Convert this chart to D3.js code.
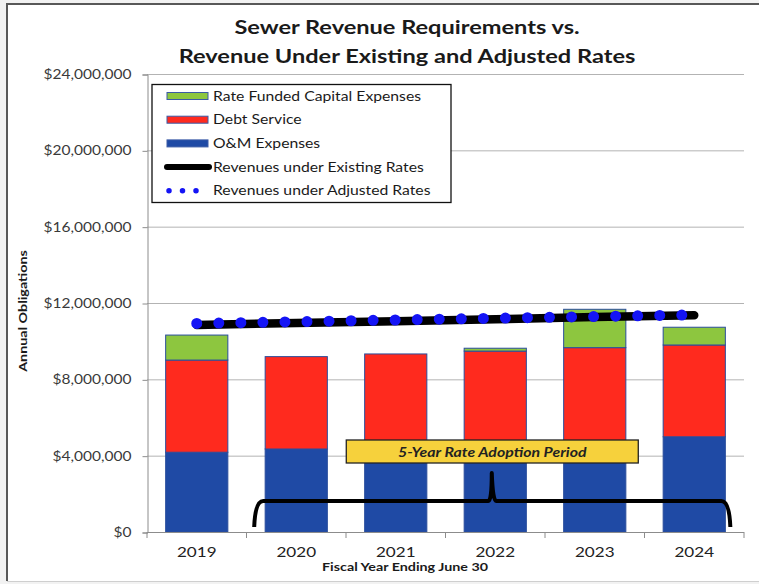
<!DOCTYPE html>
<html>
<head>
<meta charset="utf-8">
<script src="https://cdn.jsdelivr.net/npm/d3@7"></script>
<style>
  html, body { margin: 0; padding: 0; background: #f2f2f2; }
  svg { display: block; font-family: Lato, "Open Sans", sans-serif; }
</style>
</head>
<body>
<svg id="chart" width="759" height="584"></svg>
<script>
// Fiscal years and the three stacked cost components (dollars)
const years = ["2019", "2020", "2021", "2022", "2023", "2024"];
const omExpenses = [4180000, 4350000, 4450000, 4560000, 4660000, 4990000];
const debtService = [4830000, 4840000, 4880000, 4920000, 5000000, 4810000];
const capitalExpenses = [1310000, 0, 0, 150000, 2010000, 930000];

// Revenue projections (dollars)
const existingRevenue = [10850000, 10950000, 11050000, 11150000, 11260000, 11360000];
const adjustedRevenue = [10930000, 11020000, 11110000, 11200000, 11290000, 11380000];

// Value axis ticks
const yTicks = [0, 4000000, 8000000, 12000000, 16000000, 20000000, 24000000];

const seriesKeys = ["om", "debt", "capital"];
const seriesNames = {
  capital: "Rate Funded Capital Expenses",
  debt: "Debt Service",
  om: "O&M Expenses"
};
const colors = { om: "#1f4aa5", debt: "#ff2a1e", capital: "#8dc63f" };

const rows = years.map((yr, i) => ({
  year: yr,
  om: omExpenses[i],
  debt: debtService[i],
  capital: capitalExpenses[i]
}));

// Widen a text run horizontally by the given factor
function widen(sel, factor) {
  sel.each(function () {
    const len = this.getComputedTextLength();
    d3.select(this).attr("textLength", len * factor).attr("lengthAdjust", "spacingAndGlyphs");
  });
}

const svg = d3.select("#chart");
const W = 759, H = 584;
const plot = { left: 147, right: 744, top: 74, bottom: 532 };

// Frame
svg.append("rect").attr("x", 7).attr("y", 4).attr("width", W).attr("height", 577)
  .attr("fill", "#ffffff");
svg.append("line").attr("x1", 7).attr("x2", 7).attr("y1", 3).attr("y2", 581)
  .attr("stroke", "#585858").attr("stroke-width", 2);
svg.append("line").attr("x1", 6).attr("x2", W).attr("y1", 4).attr("y2", 4)
  .attr("stroke", "#585858").attr("stroke-width", 2);
svg.append("line").attr("x1", 7).attr("x2", W).attr("y1", 581.5).attr("y2", 581.5)
  .attr("stroke", "#cfcfcf").attr("stroke-width", 1);

const x = d3.scaleBand().domain(years)
  .range([plot.left, plot.right])
  .paddingInner(0.375).paddingOuter(0.1875);
const y = d3.scaleLinear().domain([0, 24000000]).range([plot.bottom, plot.top]);

// Gridlines
svg.append("g").selectAll("line").data(yTicks.filter(d => d > 0)).join("line")
  .attr("x1", plot.left).attr("x2", plot.right)
  .attr("y1", d => y(d) + 0.5).attr("y2", d => y(d) + 0.5)
  .attr("stroke", "#b3b3b3").attr("stroke-width", 1);

// Y axis
const yAxis = svg.append("g")
  .attr("transform", `translate(${plot.left + 0.5},0.5)`)
  .call(d3.axisLeft(y).tickValues(yTicks).tickFormat(d3.format("$,")).tickSize(5).tickPadding(11));
yAxis.select(".domain").attr("stroke", "#8c8c8c");
yAxis.selectAll(".tick line").attr("stroke", "#8c8c8c");
yAxis.selectAll(".tick text").attr("fill", "#3a3a3a")
  .style("font-size", "12.5px").style("font-family", "Lato, sans-serif")
  .call(widen, 1.24);

// Stacked bars
const stacked = d3.stack().keys(seriesKeys)(rows);
svg.append("g").selectAll("g").data(stacked).join("g")
  .attr("fill", d => colors[d.key])
  .selectAll("rect").data(d => d.filter(p => p[1] - p[0] > 0)).join("rect")
  .attr("x", d => x(d.data.year))
  .attr("width", x.bandwidth())
  .attr("y", d => y(d[1]))
  .attr("height", d => y(d[0]) - y(d[1]))
  .attr("stroke", "#2a4d9c")
  .attr("stroke-width", 1);

// X axis baseline and category boundary ticks
const step = x.step();
const xAxis = svg.append("g");
xAxis.append("line")
  .attr("x1", plot.left).attr("x2", plot.right)
  .attr("y1", plot.bottom + 0.5).attr("y2", plot.bottom + 0.5)
  .attr("stroke", "#8c8c8c");
xAxis.selectAll("line.tick").data(d3.range(years.length + 1)).join("line")
  .attr("class", "tick")
  .attr("x1", i => plot.left + i * (plot.right - plot.left) / years.length)
  .attr("x2", i => plot.left + i * (plot.right - plot.left) / years.length)
  .attr("y1", plot.bottom).attr("y2", plot.bottom + 6)
  .attr("stroke", "#8c8c8c");
xAxis.selectAll("text").data(years).join("text")
  .attr("x", d => x(d) + x.bandwidth() / 2)
  .attr("y", plot.bottom + 25)
  .attr("text-anchor", "middle")
  .attr("fill", "#222")
  .style("font-size", "14px")
  .text(d => d)
  .call(widen, 1.22);

// Revenue lines
const lineGen = d3.line()
  .x((d, i) => x(years[i]) + x.bandwidth() / 2)
  .y(d => y(d));

svg.append("path").datum(existingRevenue)
  .attr("d", lineGen)
  .attr("fill", "none")
  .attr("stroke", "#000")
  .attr("stroke-width", 8.5)
  .attr("stroke-linecap", "round");

svg.append("path").datum(adjustedRevenue)
  .attr("d", lineGen)
  .attr("fill", "none")
  .attr("stroke", "#1414f5")
  .attr("stroke-width", 11)
  .attr("stroke-linecap", "round")
  .attr("stroke-dasharray", "0 22.05");

// Rate adoption period bracket and label
const bLeft = x("2020") - 0.09 * step;
const bRight = x("2024") + x.bandwidth() + 3;
const bMid = (bLeft + bRight) / 2;
const bY = plot.bottom - 31;
const bLow = plot.bottom - 5;
const bTip = plot.bottom - 59;
const bracket = d3.path();
bracket.moveTo(bLeft - 2, bLow);
bracket.quadraticCurveTo(bLeft - 1, bY, bLeft + 7, bY);
bracket.lineTo(bMid - 4, bY);
bracket.quadraticCurveTo(bMid - 0.5, bY, bMid - 0.5, bTip);
bracket.quadraticCurveTo(bMid + 0.5, bY, bMid + 4, bY);
bracket.lineTo(bRight - 7, bY);
bracket.quadraticCurveTo(bRight + 1, bY, bRight + 2, bLow);
svg.append("path").attr("d", bracket.toString())
  .attr("fill", "none").attr("stroke", "#000").attr("stroke-width", 4)
  .attr("stroke-linejoin", "round");

const lblW = 292, lblH = 23;
const lblY = plot.bottom - 92;
svg.append("rect")
  .attr("x", bMid - lblW / 2).attr("y", lblY)
  .attr("width", lblW).attr("height", lblH)
  .attr("fill", "#f6d13c").attr("stroke", "#222").attr("stroke-width", 1.3);
svg.append("text")
  .attr("x", bMid).attr("y", lblY + 16.5)
  .attr("text-anchor", "middle")
  .attr("fill", "#222")
  .style("font-size", "12.5px").style("font-weight", "bold").style("font-style", "italic")
  .text("5-Year Rate Adoption Period")
  .call(widen, 1.27);

// Legend
const lg = svg.append("g");
lg.append("rect").attr("x", 152).attr("y", 84.5).attr("width", 299).attr("height", 118)
  .attr("fill", "#fff").attr("stroke", "#111").attr("stroke-width", 1.3);
const legendItems = [
  { type: "bar", key: "capital" },
  { type: "bar", key: "debt" },
  { type: "bar", key: "om" },
  { type: "line", label: "Revenues under Existing Rates" },
  { type: "dots", label: "Revenues under Adjusted Rates" }
];
legendItems.forEach((it, i) => {
  const cy = 96 + i * 23.7;
  if (it.type === "bar") {
    lg.append("rect").attr("x", 167).attr("y", cy - 3.5).attr("width", 41).attr("height", 7)
      .attr("fill", colors[it.key]).attr("stroke", "#3b5aa6").attr("stroke-width", 1);
  } else if (it.type === "line") {
    lg.append("line").attr("x1", 167).attr("x2", 209).attr("y1", cy).attr("y2", cy)
      .attr("stroke", "#000").attr("stroke-width", 6).attr("stroke-linecap", "round");
  } else {
    lg.append("line").attr("x1", 169).attr("x2", 200).attr("y1", cy).attr("y2", cy)
      .attr("stroke", "#1414f5").attr("stroke-width", 5.5).attr("stroke-linecap", "round")
      .attr("stroke-dasharray", "0 13.5");
  }
  lg.append("text").attr("x", 213).attr("y", cy + 4.5)
    .attr("fill", "#1a1a1a").style("font-size", "13px")
    .text(it.label || seriesNames[it.key])
    .call(widen, 1.21);
});

// Titles
const titleLines = ["Sewer Revenue Requirements vs.", "Revenue Under Existing and Adjusted Rates"];
svg.append("g").selectAll("text").data(titleLines).join("text")
  .attr("x", 407).attr("y", (d, i) => 34 + i * 29)
  .attr("text-anchor", "middle")
  .attr("fill", "#1a1a1a").style("font-size", "19px").style("font-weight", "bold")
  .text(d => d)
  .call(widen, 1.24);

svg.append("text")
  .attr("transform", `translate(27,311) rotate(-90)`)
  .attr("text-anchor", "middle")
  .attr("fill", "#1a1a1a")
  .style("font-size", "11px").style("font-weight", "bold")
  .text("Annual Obligations")
  .call(widen, 1.3);

svg.append("text")
  .attr("x", 405).attr("y", 571)
  .attr("text-anchor", "middle")
  .attr("fill", "#1a1a1a")
  .style("font-size", "11px").style("font-weight", "bold")
  .text("Fiscal Year Ending June 30")
  .call(widen, 1.3);
</script>
</body>
</html>
